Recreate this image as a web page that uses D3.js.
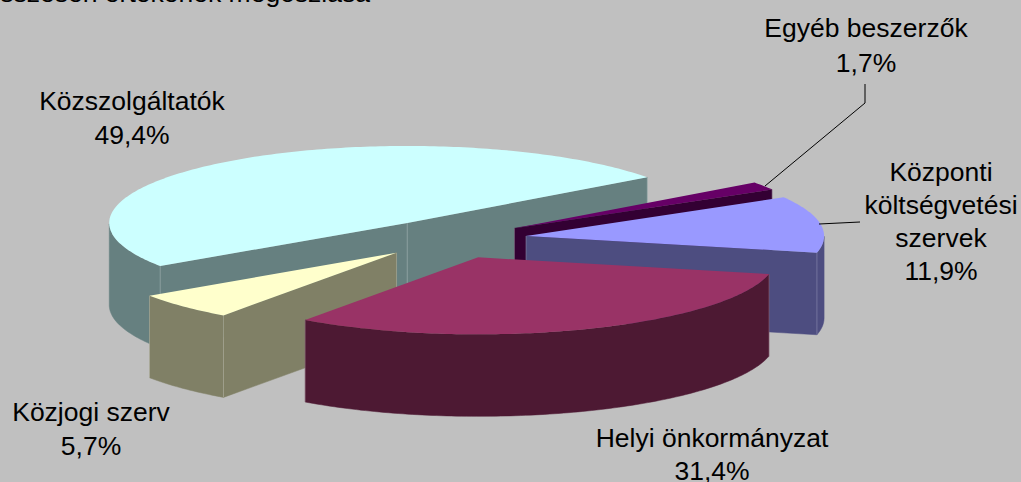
<!DOCTYPE html>
<html><head><meta charset="utf-8">
<script src="https://cdn.jsdelivr.net/npm/d3@7"></script>
<style>html,body{margin:0;padding:0;background:#c0c0c0;overflow:hidden}
text{font-family:"Liberation Sans",Arial,sans-serif;font-size:26.5px;fill:#000;text-anchor:middle}</style>
</head><body><svg id="c" width="1021" height="482"></svg>
<script>
const categories=["Közszolgáltatók","Egyéb beszerzők","Központi költségvetési szervek","Helyi önkormányzat","Közjogi szerv"];
const values=[49.4,1.7,11.9,31.4,5.7];
const topColors=["#ccffff","#660066","#9999ff","#993366","#ffffcc"];
const sideColors=["#668080","#330033","#4d4d80","#4d1933","#808066"];
const paintOrder=[0,1,2,4,3];
const labelLines=[["Közszolgáltatók","49,4%"],["Egyéb beszerzők","1,7%"],["Központi","költségvetési","szervek","11,9%"],["Helyi önkormányzat","31,4%"],["Közjogi szerv","5,7%"]];
const labelAnchors=[[132,110],[866,37],[941,181],[712,447],[91,421]];
const labelSpacing=[34,35,33,33,34];
const titleText="összesen értékének megoszlása";

const svg=d3.select("#c");
svg.append("text").attr("x",370).attr("y",2).style("text-anchor","end").text(titleText);

// projection of the tilted pie
const cx=451,cy=239,R=298,ky=77/298,explode=0.255,depth=82,startAngle=236*Math.PI/180;
const arcs=d3.pie().sort(null).value(d=>d).startAngle(startAngle).endAngle(startAngle+2*Math.PI)(values);
const project=(ox,oy,a,r)=>[cx+R*(ox+r*Math.sin(a)),cy+R*ky*(oy-r*Math.cos(a))];
const line=d3.line();
const g=svg.append("g");
paintOrder.forEach(i=>{
  const d=arcs[i],mid=(d.startAngle+d.endAngle)/2;
  const ox=explode*Math.sin(mid),oy=-explode*Math.cos(mid);
  const n=Math.max(8,Math.ceil((d.endAngle-d.startAngle)*60));
  const angles=d3.range(n+1).map(k=>d.startAngle+(d.endAngle-d.startAngle)*k/n);
  const rim=angles.map(a=>project(ox,oy,a,1));
  const apex=project(ox,oy,0,0);
  const down=p=>[p[0],p[1]+depth];
  const s=g.append("g");
  const wall=pts=>s.append("path").attr("d",line(pts)+"Z").attr("fill",sideColors[i]).attr("stroke",sideColors[i]).attr("stroke-width",0.5);
  const seam=p=>s.append("path").attr("d",line([p,down(p)])).attr("stroke","#fff").attr("stroke-opacity",0.22).attr("fill","none");
  const startFront=-Math.sin(d.startAngle)>0,endFront=Math.sin(d.endAngle)>0;
  if(startFront) wall([apex,rim[0],down(rim[0]),down(apex)]);
  if(endFront) wall([apex,rim[n],down(rim[n]),down(apex)]);
  if(startFront||endFront) seam(apex);
  const front=rim.filter((p,k)=>-Math.cos(angles[k])>0);
  if(front.length>1) wall(front.concat(front.slice().reverse().map(down)));
  if(startFront||-Math.cos(d.startAngle)>0) seam(rim[0]);
  if(endFront||-Math.cos(d.endAngle)>0) seam(rim[n]);
  s.append("path").attr("d",line([apex,...rim])+"Z").attr("fill",topColors[i]);
});

// leader lines
const leaders=[[[765,186],[865,103],[865,84]],[[819,224],[860,222]]];
leaders.forEach(l=>svg.append("path").attr("d",line(l)).attr("fill","none").attr("stroke","#000").attr("stroke-width",1));

labelLines.forEach((lines,i)=>{
  const t=svg.append("text").attr("x",labelAnchors[i][0]).attr("y",labelAnchors[i][1]);
  lines.forEach((l,j)=>t.append("tspan").attr("x",labelAnchors[i][0]).attr("dy",j?labelSpacing[i]:0).text(l));
});
</script></body></html>
